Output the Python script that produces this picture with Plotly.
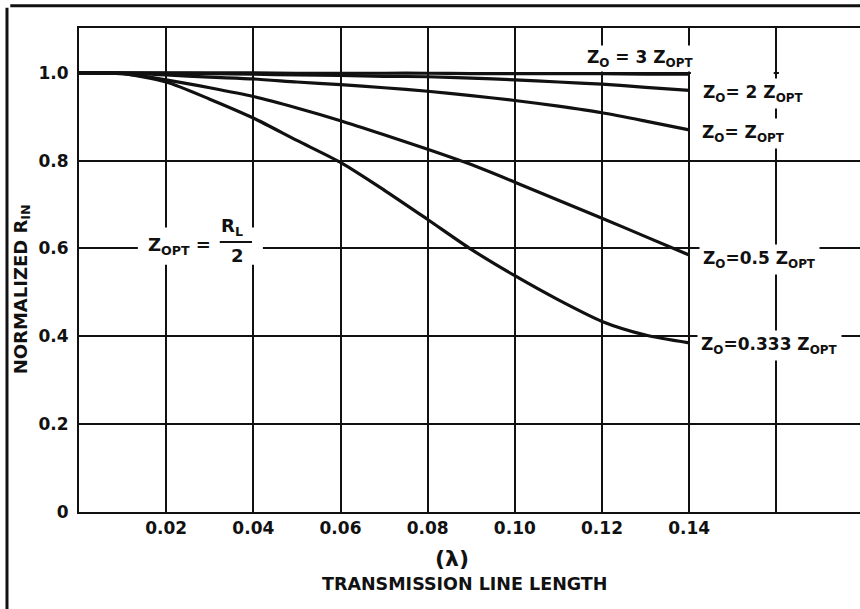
import plotly.graph_objects as go

# ---- data ----
line_length = [0.00, 0.01, 0.02, 0.03, 0.04, 0.05, 0.06, 0.07, 0.08, 0.09, 0.10, 0.11, 0.12, 0.13, 0.14]
rin_z3 = [1.000, 1.000, 1.000, 1.000, 1.000, 0.999, 0.999, 0.999, 0.999, 0.998, 0.998, 0.998, 0.998, 0.997, 0.997]
rin_z2 = [1.000, 1.000, 0.999, 0.998, 0.997, 0.995, 0.994, 0.992, 0.991, 0.988, 0.984, 0.979, 0.974, 0.967, 0.960]
rin_z1 = [1.000, 0.999, 0.995, 0.990, 0.986, 0.979, 0.973, 0.966, 0.958, 0.948, 0.937, 0.924, 0.909, 0.890, 0.870]
rin_z05 = [1.000, 0.998, 0.984, 0.966, 0.946, 0.920, 0.891, 0.859, 0.826, 0.791, 0.751, 0.710, 0.669, 0.627, 0.585]
rin_z0333 = [1.000, 0.998, 0.979, 0.940, 0.897, 0.846, 0.796, 0.733, 0.666, 0.598, 0.538, 0.483, 0.434, 0.403, 0.385]

x_tick_vals = [0.02, 0.04, 0.06, 0.08, 0.10, 0.12, 0.14, 0.16]
x_tick_text = ["0.02", "0.04", "0.06", "0.08", "0.10", "0.12", "0.14", ""]
y_tick_vals = [0.0, 0.2, 0.4, 0.6, 0.8, 1.0]
y_tick_text = ["0", "0.2", "0.4", "0.6", "0.8", "1.0"]

curve_labels = [
    "Z<sub>O</sub> = 3 Z<sub>OPT</sub>",
    "Z<sub>O</sub>= 2 Z<sub>OPT</sub>",
    "Z<sub>O</sub>= Z<sub>OPT</sub>",
    "Z<sub>O</sub>=0.5 Z<sub>OPT</sub>",
    "Z<sub>O</sub>=0.333 Z<sub>OPT</sub>",
]
series = [rin_z3, rin_z2, rin_z1, rin_z05, rin_z0333]

FONT = "DejaVu Sans"
INK = "#111111"

fig = go.Figure()
for vals in series:
    fig.add_trace(go.Scatter(
        x=line_length, y=vals, mode="lines",
        line=dict(color=INK, width=3.2, shape="spline", smoothing=0.7),
        hoverinfo="skip", showlegend=False,
    ))

# label positions (data coords), left-anchored
label_pos = [
    (0.1160, 1.033),
    (0.1423, 0.954),
    (0.1421, 0.861),
    (0.1423, 0.574),
    (0.1418, 0.378),
]
label_pad = [1, 3, 3, 3, 3]
annotations = []
for txt, (lx, ly), bp in zip(curve_labels, label_pos, label_pad):
    annotations.append(dict(
        x=lx, y=ly, xref="x", yref="y", text=txt, showarrow=False,
        xanchor="left", yanchor="middle", bgcolor="white", borderpad=bp,
        font=dict(family=FONT, size=17, color=INK, weight="bold"),
    ))

# Z_OPT = R_L / 2
annotations += [
    dict(x=0.0153, y=0.605, xref="x", yref="y", text="Z<sub>OPT</sub> =", showarrow=False,
         xanchor="left", yanchor="middle",
         font=dict(family=FONT, size=18, color=INK, weight="bold")),
    dict(x=0.0350, y=0.650, xref="x", yref="y", text="R<sub>L</sub>", showarrow=False,
         xanchor="center", yanchor="middle",
         font=dict(family=FONT, size=18, color=INK, weight="bold")),
    dict(x=0.0364, y=0.585, xref="x", yref="y", text="2", showarrow=False,
         xanchor="center", yanchor="middle",
         font=dict(family=FONT, size=18, color=INK, weight="bold")),
]

# axis titles
annotations += [
    dict(x=-0.073, y=0.46, xref="paper", yref="paper", text="NORMALIZED R<sub>IN</sub>",
         textangle=-90, showarrow=False, xanchor="center", yanchor="middle",
         font=dict(family=FONT, size=18, color=INK, weight="bold")),
    dict(x=0.4776, y=-0.097, xref="paper", yref="paper", text="(λ)", showarrow=False,
         xanchor="center", yanchor="middle",
         font=dict(family=FONT, size=22, color=INK, weight="bold")),
    dict(x=0.4942, y=-0.149, xref="paper", yref="paper", text="TRANSMISSION LINE LENGTH",
         showarrow=False, xanchor="center", yanchor="middle",
         font=dict(family=FONT, size=17.5, color=INK, weight="bold")),
]

shapes = [
    # white patch making the grid gap behind the Z_OPT formula
    dict(type="rect", xref="x", yref="y", x0=0.0135, x1=0.0422, y0=0.563, y1=0.648,
         fillcolor="white", line=dict(width=0), layer="between"),
    # the 1.0 grid line stops at the end of the curves
    dict(type="rect", xref="x", yref="y", x0=0.1404, x1=0.1594, y0=0.995, y1=1.005,
         fillcolor="white", line=dict(width=0), layer="between"),
    dict(type="rect", xref="x", yref="y", x0=0.1606, x1=0.1792, y0=0.995, y1=1.005,
         fillcolor="white", line=dict(width=0), layer="between"),
    # fraction bar
    dict(type="line", xref="x", yref="y", x0=0.0323, x1=0.0397, y0=0.6148, y1=0.6148,
         line=dict(color=INK, width=2), layer="above"),
    # outer frame (top and left)
    dict(type="line", xref="paper", yref="paper", x0=-0.088, x1=1.0, y0=1.046, y1=1.046,
         line=dict(color=INK, width=3)),
    dict(type="line", xref="paper", yref="paper", x0=-0.0922, x1=-0.0922, y0=1.042, y1=-0.21,
         line=dict(color=INK, width=3)),
]

fig.update_layout(
    width=860, height=609,
    margin=dict(l=79, r=0, t=28, b=97, pad=0),
    paper_bgcolor="white", plot_bgcolor="white",
    annotations=annotations, shapes=shapes,
    xaxis=dict(
        range=[0, 0.1792], tickvals=x_tick_vals, ticktext=x_tick_text,
        showgrid=True, gridcolor=INK, gridwidth=2, zeroline=False,
        showline=True, linecolor=INK, linewidth=2, mirror=True,
        ticks="", ticklabelstandoff=0,
        tickfont=dict(family=FONT, size=17, color=INK, weight="bold"),
    ),
    yaxis=dict(
        range=[0, 1.102], tickvals=y_tick_vals, ticktext=y_tick_text,
        showgrid=True, gridcolor=INK, gridwidth=2, zeroline=False,
        showline=True, linecolor=INK, linewidth=2, mirror=False,
        ticks="", ticklabelstandoff=5,
        tickfont=dict(family=FONT, size=17, color=INK, weight="bold"),
    ),
)

fig.write_html(
    "out.html",
    config={"displayModeBar": False},
    post_script="document.body.style.margin='0px';document.body.style.overflow='hidden';",
)
